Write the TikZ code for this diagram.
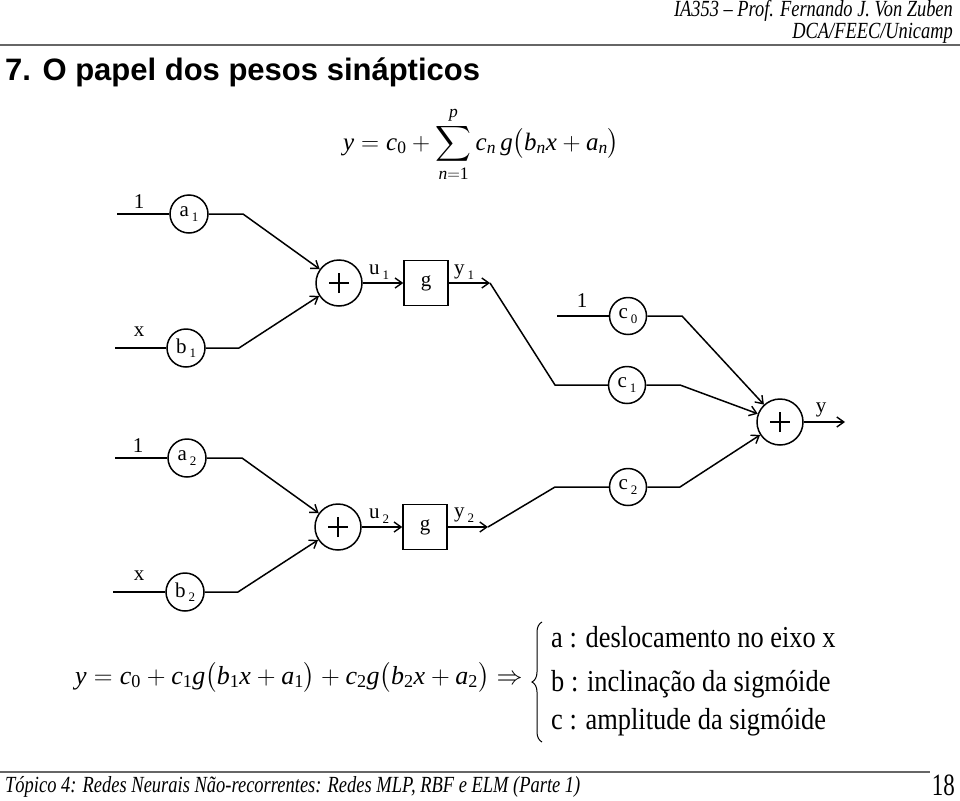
\RequirePackage{fix-cm}
\documentclass[tikz,border=0pt]{standalone}
\usepackage{fontspec}
\setmainfont{Liberation Serif}
\newfontfamily\titlefont{Liberation Sans}
\usepackage{amsmath}
\usetikzlibrary{arrows.meta,decorations.pathreplacing}
\newcommand\vi[1]{\textit{#1}}
\newcommand\sbl[2]{#1\hspace{3pt}\raisebox{-4.5pt}{\fontsize{13}{13}\selectfont #2}}
\newcommand\fs[1]{\fontsize{#1}{#1}\selectfont}
\tikzset{
  wt/.style={circle,draw,line width=1.5pt,minimum size=38pt,inner sep=0pt,font=\fs{21}},
  sumnode/.style={circle,draw,line width=1.5pt,minimum size=46pt,inner sep=0pt},
  gbox/.style={draw,line width=1.5pt,minimum width=44pt,minimum height=45pt,inner sep=0pt,font=\fs{21}},
  wire/.style={line width=1.5pt},
  arr/.style={wire,-{Straight Barb[length=7pt,width=10pt,line width=1.4pt]}},
  lbl/.style={inner sep=0pt,font=\fs{21}},
  txt/.style={inner sep=0pt},
}
\newcommand\plusin[1]{\draw[wire] ([xshift=-10pt]#1.center) -- ([xshift=10pt]#1.center);
  \draw[wire] ([yshift=-10pt]#1.center) -- ([yshift=10pt]#1.center);}
\begin{document}
\begin{tikzpicture}[x=1pt,y=-1pt]
\useasboundingbox (0,0) rectangle (960,800);
\fill[white] (0,0) rectangle (960,800);
% header
\node[txt,anchor=base east] (h1) at (953,17) {\fs{21}\scalebox{0.876}[1.1]{\itshape IA353 -- Prof. Fernando J. Von Zuben}};
\node[txt,anchor=base east] (h2) at (953,38) {\fs{21}\scalebox{0.876}[1.1]{\itshape DCA/FEEC/Unicamp}};
\draw[line width=2pt,black!60] (0,45) -- (960,45);
\node[txt,anchor=base west] (title) at (5,80) {\titlefont\bfseries\fs{31}7. O papel dos pesos sinápticos};
% top formula
\node[txt,anchor=base west] (f1) at (343,150) {\fs{25}$\displaystyle \vi{y} = \vi{c}_{\text{0}} + \sum_{\vi{n}=\text{1}}^{\vi{p}} \vi{c}_{\vi{n}}\,\vi{g}\bigl(\vi{b}_{\vi{n}}\vi{x}+\vi{a}_{\vi{n}}\bigr)$};
% upper hidden unit
\node[wt] (a1) at (189,214) {\sbl{a}{1}};
\node[wt] (b1) at (186,348) {\sbl{b}{1}};
\node[sumnode] (p1) at (339,283) {};
\node[gbox] (g1) at (426,283) {g};
\coordinate (i1) at (117,214);
\coordinate (i2) at (115,348);
\coordinate (ka1) at (243,214);
\coordinate (kb1) at (239,348);
\coordinate (t1) at (490,283);
\coordinate (k1) at (555,385);
\node[lbl] (l1) at (139,202) {1};
\node[lbl] (lx1) at (139,332) {x};
\node[lbl] (lu1) at (379,272) {\sbl{u}{1}};
\node[lbl] (ly1) at (464,272) {\sbl{y}{1}};
\draw[wire] (i1) -- (a1);
\draw[wire] (i2) -- (b1);
\draw[arr] (a1) -- (ka1) -- (p1);
\draw[arr] (b1) -- (kb1) -- (p1);
\plusin{p1}
\draw[arr] (p1) -- (g1);
\draw[arr] (g1) -- (t1);
% lower hidden unit
\node[wt] (a2) at (187,458) {\sbl{a}{2}};
\node[wt] (b2) at (185,592) {\sbl{b}{2}};
\node[sumnode] (p3) at (338,527) {};
\node[gbox] (g2) at (425,527) {g};
\coordinate (i3) at (115,458);
\coordinate (i4) at (113,592);
\coordinate (ka2) at (242,458);
\coordinate (kb2) at (238,592);
\coordinate (t2) at (488,527);
\coordinate (k2) at (555,487);
\node[lbl] (l2) at (138,446) {1};
\node[lbl] (lx2) at (139,576) {x};
\node[lbl] (lu2) at (379,516) {\sbl{u}{2}};
\node[lbl] (ly2) at (464,515) {\sbl{y}{2}};
\draw[wire] (i3) -- (a2);
\draw[wire] (i4) -- (b2);
\draw[arr] (a2) -- (ka2) -- (p3);
\draw[arr] (b2) -- (kb2) -- (p3);
\plusin{p3}
\draw[arr] (p3) -- (g2);
\draw[arr] (g2) -- (t2);
% output layer
\node[wt,minimum size=37pt] (c0) at (628,316) {\sbl{c}{0}};
\node[wt,minimum size=37pt] (c1) at (627,385) {\sbl{c}{1}};
\node[wt,minimum size=37pt] (c2) at (628,487) {\sbl{c}{2}};
\node[sumnode] (p2) at (780,422) {};
\coordinate (i5) at (557,316);
\coordinate (kc0) at (682,316);
\coordinate (kc1) at (680,385);
\coordinate (kc2) at (680,487);
\coordinate (out) at (845,422);
\node[lbl] (l3) at (582,301) {1};
\node[lbl] (ly) at (821,410) {y};
\draw[wire] (t1) -- (k1) -- (c1);
\draw[wire] (t2) -- (k2) -- (c2);
\draw[wire] (i5) -- (c0);
\draw[arr] (c0) -- (kc0) -- (p2);
\draw[arr] (c1) -- (kc1) -- (p2);
\draw[arr] (c2) -- (kc2) -- (p2);
\plusin{p2}
\draw[arr] (p2) -- (out);
% bottom formula
\node[txt,anchor=base west] (f2) at (75,684) {\fs{26}$\vi{y} = \vi{c}_{\text{0}} + \vi{c}_{\text{1}}\vi{g}\bigl(\vi{b}_{\text{1}}\vi{x}+\vi{a}_{\text{1}}\bigr) + \vi{c}_{\text{2}}\vi{g}\bigl(\vi{b}_{\text{2}}\vi{x}+\vi{a}_{\text{2}}\bigr)\Rightarrow$};
\draw[decorate,decoration={brace,amplitude=10pt},line width=1pt] (542,742) -- (542,622) coordinate (brtop);
\node[txt,anchor=base west] (e1) at (551,647) {\fs{29}\scalebox{0.91}[1.05]{a : deslocamento no eixo x}};
\node[txt,anchor=base west] (e2) at (551,691) {\fs{29}\scalebox{0.91}[1.05]{b : inclinação da sigmóide}};
\node[txt,anchor=base west] (e3) at (551,729) {\fs{29}\scalebox{0.91}[1.05]{c : amplitude da sigmóide}};
% footer
\draw[line width=2pt,black!60] (0,772) -- (930,772);
\node[txt,anchor=base west] (ft) at (5,792) {\fs{21}\scalebox{0.88}[1.1]{\itshape Tópico 4: Redes Neurais Não-recorrentes: Redes MLP, RBF e ELM (Parte 1)}};
\node[txt,anchor=base east] (pg) at (955,795) {\fs{31}\scalebox{0.74}[1]{18}};
\end{tikzpicture}
\end{document}
